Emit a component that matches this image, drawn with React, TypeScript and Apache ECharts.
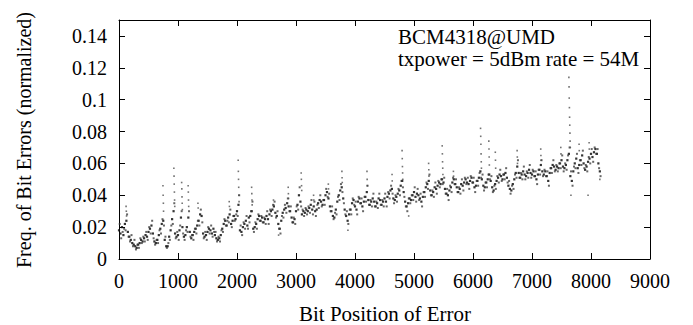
import React, { useEffect, useRef } from "react";
import * as echarts from "echarts";

// Bit position sampling step of the read-off band values
const BIT_STEP = 25;

// Main band of bit-error frequency (per mille), one value every BIT_STEP bits from 0
const coreErrPermille = [
  18,16,20,15,22,24,17,14,12,10,9,8,7,9,10,12,11,13,15,14,
  17,19,21,16,11,10,12,15,19,22,24,12,8,8,14,18,25,30,16,14,
  15,18,26,20,14,15,20,26,17,13,15,17,19,21,24,28,27,16,14,15,
  17,19,18,16,19,15,13,12,13,15,19,22,24,21,26,28,22,24,27,25,
  30,34,18,17,20,22,24,21,26,27,30,19,20,22,25,27,24,26,23,25,
  27,25,28,30,31,33,29,27,22,19,24,29,31,32,35,33,30,26,23,25,
  30,34,40,36,28,30,29,31,30,32,34,31,33,30,31,35,37,36,34,37,
  40,42,38,33,30,27,26,31,36,40,43,45,38,31,27,24,28,31,35,37,
  33,31,36,38,35,33,36,39,42,37,34,36,38,36,33,35,38,37,34,36,
  38,36,39,41,43,44,38,37,39,41,43,46,49,42,36,33,35,38,37,40,
  42,39,41,40,38,36,39,42,45,47,49,43,40,42,45,44,46,48,47,50,
  48,44,41,40,43,45,48,50,47,45,42,44,47,46,48,50,48,47,49,51,
  48,45,46,49,51,55,50,46,45,48,50,53,49,45,43,47,49,51,53,52,
  50,53,54,51,46,44,43,47,50,54,58,54,51,53,55,53,52,54,56,54,
  53,55,52,50,53,56,59,55,53,55,52,49,54,57,59,58,56,58,57,60,
  62,58,57,59,62,66,52,49,55,60,63,57,59,62,65,60,56,58,61,63,
  66,64,67,69,66,60,55,
];

// Second scatter of the band, offset by SPREAD_OFFSET bits (per mille)
const SPREAD_OFFSET = 12;
const spreadErrPermille = [
  22,13,17,19,18,28,14,11,15,8,12,6,9,7,13,10,14,11,17,12,
  20,16,24,13,9,12,10,18,16,25,21,14,7,10,12,21,22,35,13,17,
  12,21,30,16,12,18,17,30,14,15,12,19,16,24,21,31,23,13,17,12,
  20,16,21,14,17,17,11,14,11,18,17,25,21,24,23,31,20,27,24,28,
  27,40,21,15,23,19,27,19,23,30,36,17,23,19,28,24,27,23,26,22,
  30,22,31,27,34,36,26,30,19,16,27,26,34,29,38,30,33,23,26,22,
  33,31,45,33,31,27,32,28,33,29,37,28,36,27,34,32,40,33,37,34,
  44,39,41,30,33,25,29,28,39,37,47,42,35,28,30,22,31,28,38,34,
  36,28,39,35,38,30,39,36,46,34,37,33,41,33,36,32,41,34,37,33,
  41,33,42,38,46,41,35,40,36,44,40,49,45,39,33,30,38,35,40,37,
  45,36,44,37,41,33,42,39,48,44,53,40,43,39,48,41,49,45,50,47,
  51,41,44,37,46,42,51,47,50,42,45,41,50,43,51,47,51,44,52,48,
  51,42,49,46,54,51,53,43,48,45,53,50,52,42,46,44,52,48,56,49,
  53,50,57,48,49,41,46,44,53,51,62,51,54,50,58,50,55,51,59,51,
  56,52,55,47,56,53,62,52,56,52,55,46,57,54,62,55,59,55,60,57,
  65,55,60,56,65,70,55,46,58,57,66,54,62,59,68,57,59,55,64,60,
  69,61,70,66,69,57,52,
];

// Spikes and outliers: bit positions and their frequencies (per mille)
const spikeBits = [
  120,124,128, 745,748,752,755, 930,933,936,939,942,945,
  1062,1065,1068,1071,1074, 1172,1175,1178,1181, 1338,1342, 1868,1872,
  2020,2023,2026,2029,2032,2035, 2248,2251,2254,2257, 2618,2622, 2868,2871,2874,
  3088,3091,3094,3097, 3298,3302, 3548,3551, 3778,3781,3784,
  4203,4206,4209, 4628,4631, 4798,4801,4804,4807,4810,
  5248,5251,5254, 5478,5481,5484,5487,5490, 5668,5671,
  6128,6131,6134,6137,6140,6143, 6268,6271,6274,6277, 6378,6381,6384,
  6748,6751,6754, 7148,7151,7154, 7488,7491,
  7625,7628,7631,7634,7637,7640,7643,7646,7649, 7798,7801, 7968,7971,
  2705,3880,4910,7660,7950,8150,
];
const spikeErrPermille = [
  33,30,27, 46,40,35,30, 57,52,47,42,37,33,
  48,44,39,35,31, 46,42,37,33, 35,32, 36,33,
  62,55,50,45,40,36, 45,41,37,34, 37,34, 45,41,38,
  54,50,46,43, 40,37, 47,44, 55,51,48,
  55,50,46, 53,49, 68,63,58,54,50,
  60,56,52, 71,66,61,57,53, 55,52,
  82,77,72,66,61,57, 74,69,64,59, 67,62,57,
  68,64,60, 69,65,62, 70,66,
  114,108,101,95,89,84,79,74,70, 72,68, 73,69,
  15,18,27,40,40,50,
];

const keyLines = ["BCM4318@UMD", "txpower = 5dBm rate = 54M"];

const xTicks = { min: 0, max: 9000, interval: 1000 };
const yTicks = { min: 0, max: 0.15, interval: 0.02 };

const FONT = "'Liberation Serif', 'Times New Roman', 'DejaVu Serif', serif";

export default function App() {
  const ref = useRef<HTMLDivElement>(null);
  useEffect(() => {
    if (!ref.current) return;
    const chart = echarts.init(ref.current, null, { renderer: "svg" });
    const core = coreErrPermille.map((v, i) => [i * BIT_STEP, v / 1000]);
    const spread = spreadErrPermille.map((v, i) => [i * BIT_STEP + SPREAD_OFFSET, v / 1000]);
    const spikes = spikeBits.map((b, i) => [b, spikeErrPermille[i] / 1000]);
    const tickStyle = { show: true, inside: true, length: 6, lineStyle: { color: "#000", width: 1 } };
    const lineStyle = { show: true, onZero: false, lineStyle: { color: "#000", width: 1 } };
    const labelFont = { fontFamily: FONT, fontSize: 20, color: "#000" };
    const textStyle = (size: number) => ({
      fontFamily: FONT, fontSize: size, fill: "#000", textVerticalAlign: "middle",
    });
    chart.setOption({
      animation: false,
      backgroundColor: "#fff",
      grid: { left: 119, right: 43, top: 20, bottom: 66, show: false },
      xAxis: [
        {
          type: "value", ...xTicks, position: "bottom",
          axisLine: lineStyle, axisTick: tickStyle, splitLine: { show: false },
          axisLabel: { ...labelFont, margin: 12, formatter: (v: number) => String(v) },
        },
        {
          type: "value", ...xTicks, position: "top",
          axisLine: lineStyle, axisTick: tickStyle, splitLine: { show: false },
          axisLabel: { show: false },
        },
      ],
      yAxis: [
        {
          type: "value", ...yTicks, position: "left",
          axisLine: lineStyle, axisTick: tickStyle, splitLine: { show: false },
          axisLabel: {
            ...labelFont, margin: 12, showMaxLabel: false,
            formatter: (v: number) => String(+v.toFixed(3)),
          },
        },
        {
          type: "value", ...yTicks, position: "right",
          axisLine: lineStyle, axisTick: tickStyle, splitLine: { show: false },
          axisLabel: { show: false },
        },
      ],
      series: [
        {
          type: "scatter", data: core, symbol: "rect", symbolSize: 2.2,
          itemStyle: { color: "#111", opacity: 0.85 }, silent: true,
        },
        {
          type: "scatter", data: spread, symbol: "rect", symbolSize: 2,
          itemStyle: { color: "#333", opacity: 0.75 }, silent: true,
        },
        {
          type: "scatter", data: spikes, symbol: "rect", symbolSize: 1.6,
          itemStyle: { color: "#444", opacity: 0.75 }, silent: true,
        },
      ],
      graphic: [
        {
          type: "text", x: 24, y: 140, rotation: Math.PI / 2,
          style: { text: "Freq. of Bit Errors (normalized)", ...textStyle(20), textAlign: "center" },
        },
        {
          type: "text", x: 385, y: 314,
          style: { text: "Bit Position of Error", ...textStyle(21), textAlign: "center" },
        },
        {
          type: "text", x: 398, y: 48,
          style: { text: keyLines.join("\n"), ...textStyle(21), lineHeight: 22, textAlign: "left" },
        },
      ],
    });
    return () => chart.dispose();
  }, []);
  return (
    <div
      ref={ref}
      style={{ position: "fixed", left: 0, top: 0, width: 693, height: 325, background: "#fff" }}
    />
  );
}
